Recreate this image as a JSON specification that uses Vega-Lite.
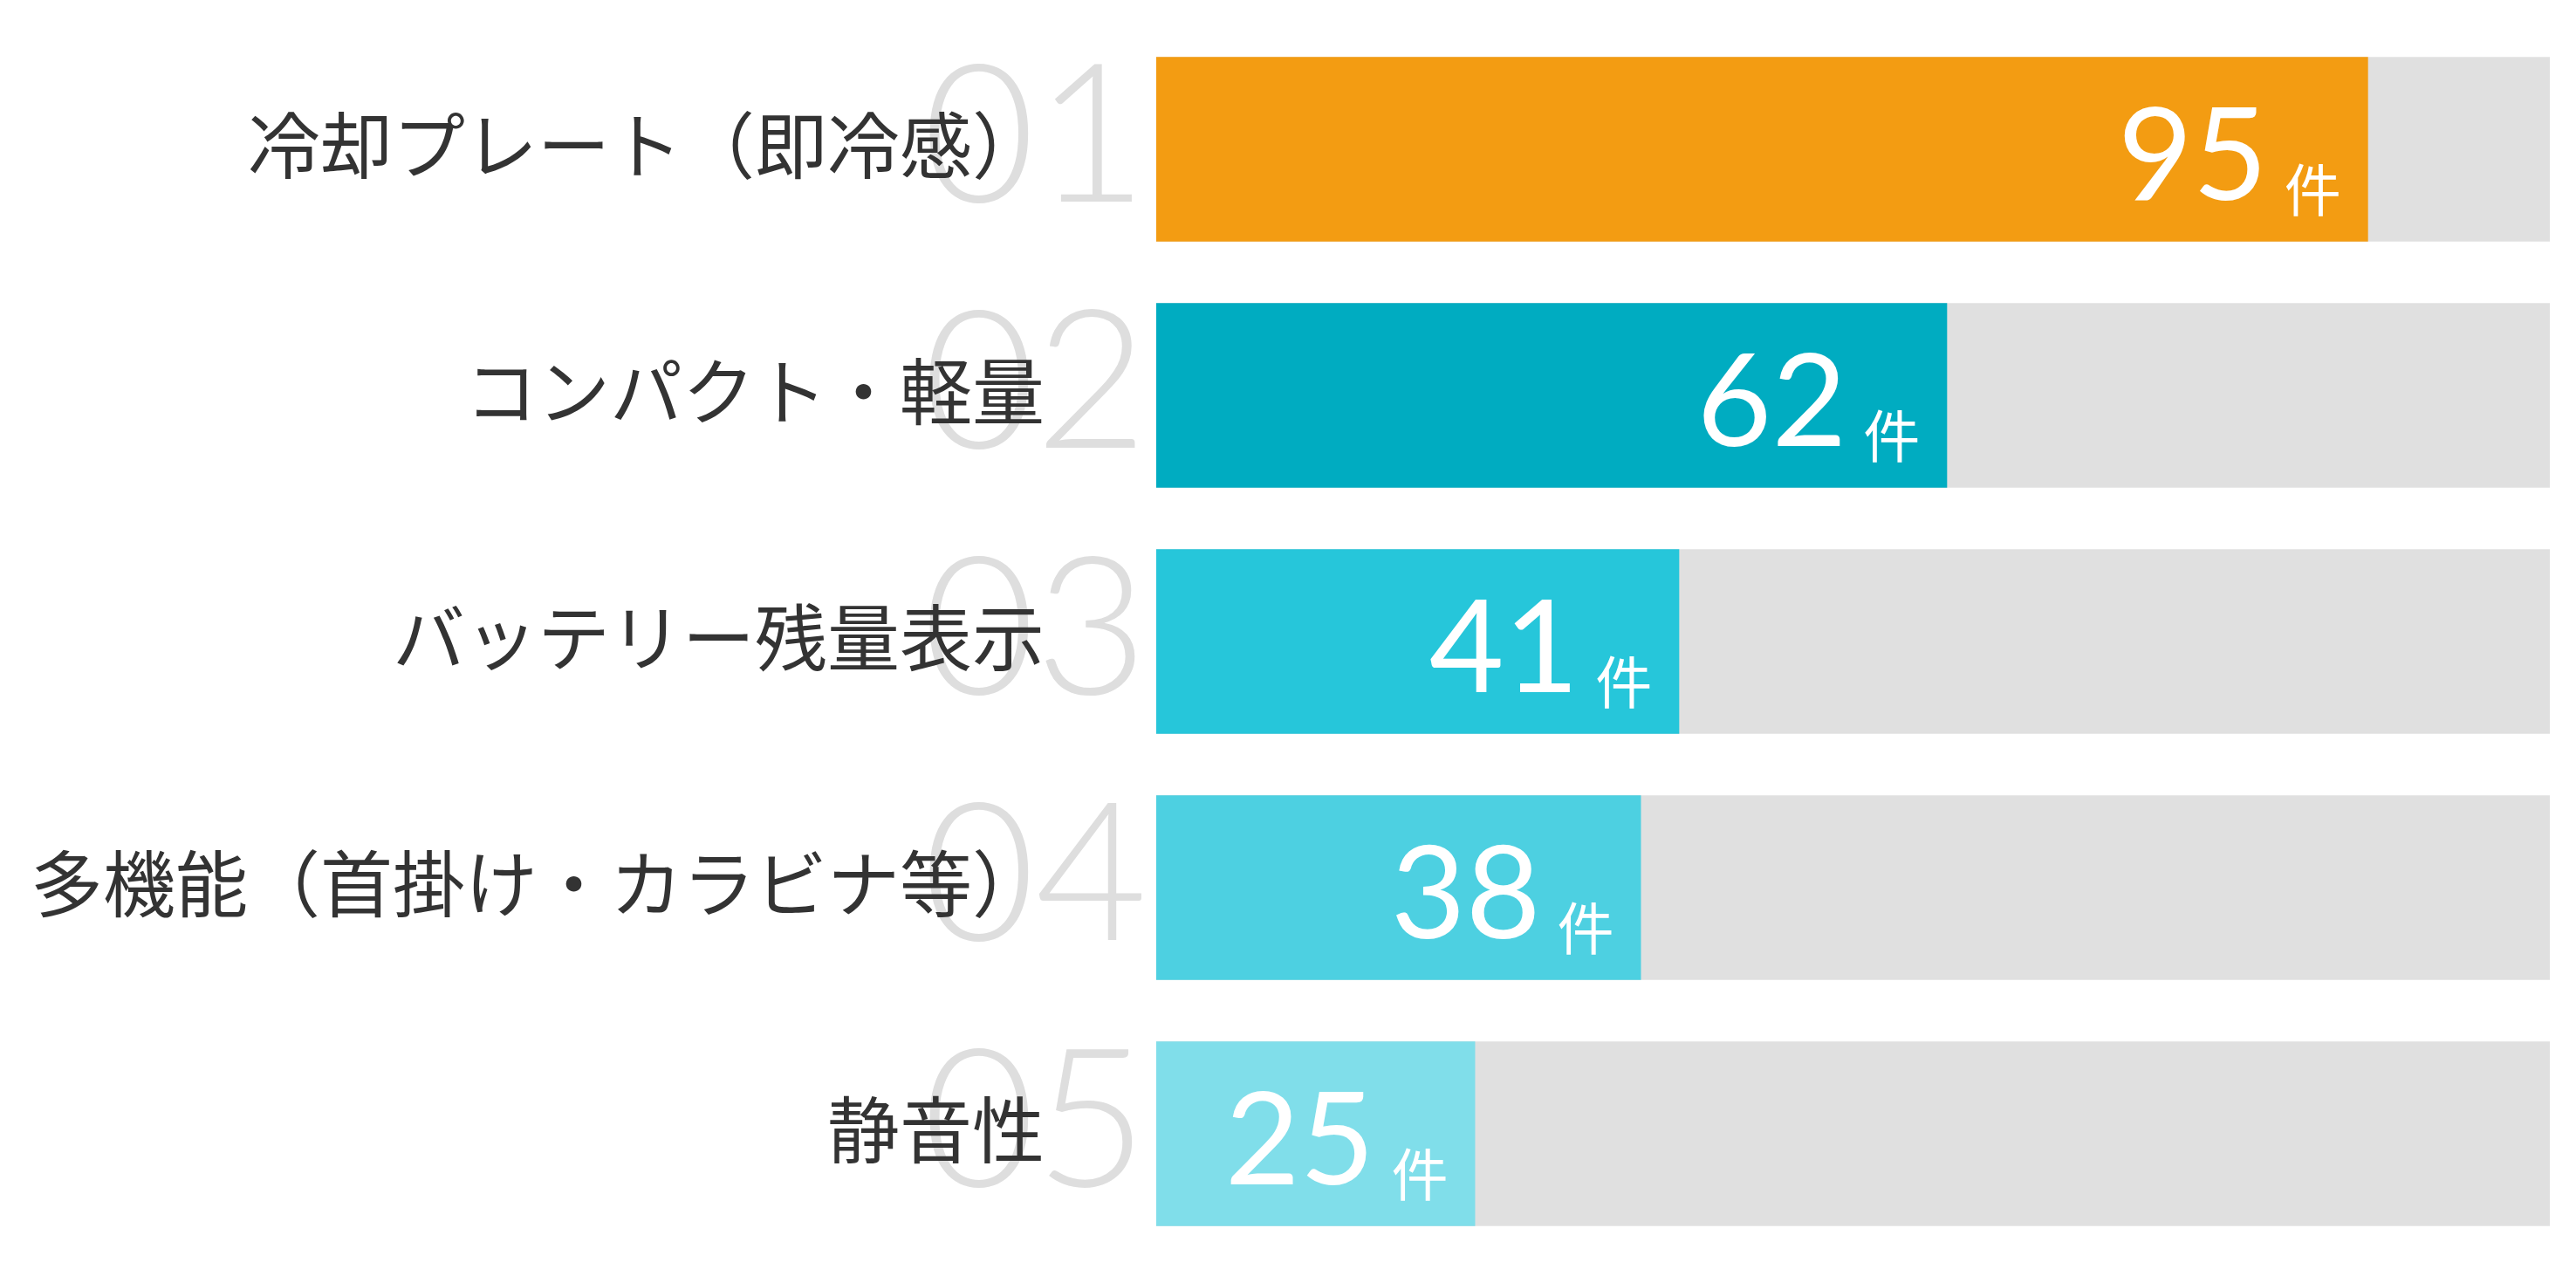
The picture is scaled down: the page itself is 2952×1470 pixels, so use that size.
{
  "$schema": "https://vega.github.io/schema/vega-lite/v6.json",
  "width": 1597,
  "height": 1410,
  "autosize": {"type": "none"},
  "padding": {"left": 1325, "top": 30, "right": 30, "bottom": 30},
  "background": "#ffffff",
  "config": {"view": {"stroke": null}},
  "data": {
    "values": [
      {"rank": "01", "item": "冷却プレート（即冷感）", "count": 95},
      {"rank": "02", "item": "コンパクト・軽量", "count": 62},
      {"rank": "03", "item": "バッテリー残量表示", "count": 41},
      {"rank": "04", "item": "多機能（首掛け・カラビナ等）", "count": 38},
      {"rank": "05", "item": "静音性", "count": 25}
    ]
  },
  "encoding": {
    "y": {
      "field": "rank",
      "type": "ordinal",
      "sort": "ascending",
      "axis": null,
      "scale": {"paddingInner": 0.25, "paddingOuter": 0.125}
    }
  },
  "layer": [
    {
      "mark": {"type": "bar", "color": "#e0e0e0"},
      "encoding": {
        "x": {"datum": 109.25, "type": "quantitative", "scale": {"domain": [0, 109.25], "nice": false}, "axis": null}
      }
    },
    {
      "mark": {"type": "bar"},
      "encoding": {
        "x": {"field": "count", "type": "quantitative", "scale": {"domain": [0, 109.25], "nice": false}, "axis": null},
        "color": {
          "field": "rank",
          "type": "nominal",
          "legend": null,
          "scale": {"domain": ["01", "02", "03", "04", "05"], "range": ["#f39c12", "#00acc1", "#26c6da", "#4dd0e1", "#80deea"]}
        }
      }
    },
    {
      "mark": {"type": "text", "align": "right", "baseline": "alphabetic", "dx": -10, "dy": 60, "font": "Lato", "fontWeight": 300, "fontSize": 222, "color": "#dedede"},
      "encoding": {
        "x": {"datum": 0, "type": "quantitative"},
        "text": {"field": "rank"}
      }
    },
    {
      "mark": {"type": "text", "align": "right", "baseline": "alphabetic", "dx": -128, "dy": 27, "font": "Noto Sans CJK JP", "fontSize": 83, "color": "#333333"},
      "encoding": {
        "x": {"datum": 0, "type": "quantitative"},
        "text": {"field": "item"}
      }
    },
    {
      "mark": {"type": "text", "align": "right", "baseline": "alphabetic", "dx": -115, "dy": 58, "font": "Lato", "fontSize": 148, "color": "#ffffff"},
      "encoding": {
        "x": {"field": "count", "type": "quantitative"},
        "text": {"field": "count"}
      }
    },
    {
      "mark": {"type": "text", "align": "left", "baseline": "alphabetic", "dx": -96, "dy": 71, "font": "Noto Sans CJK JP", "fontSize": 65, "color": "#ffffff"},
      "encoding": {
        "x": {"field": "count", "type": "quantitative"},
        "text": {"value": "件"}
      }
    }
  ]
}
